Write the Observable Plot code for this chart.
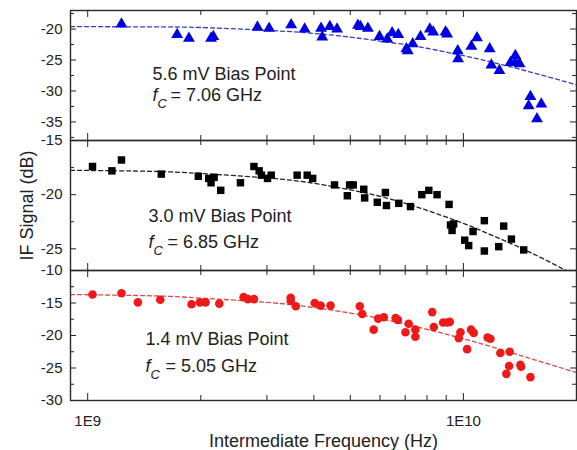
<!DOCTYPE html>
<html><head><meta charset="utf-8">
<script src="https://cdn.jsdelivr.net/npm/d3@7"></script>
<script src="https://cdn.jsdelivr.net/npm/@observablehq/plot@0.6"></script>
<style>
body{margin:0;background:#fff;}
#chart{position:relative;width:577px;height:450px;overflow:hidden;}
#chart svg{position:absolute;left:0;}
</style></head><body><div id="chart"></div>
<script>
// ---- data (frequencies in GHz, IF signal in dB) ----
const topFreqGHz = [1.23,1.73,1.86,2.13,2.16,2.83,3.04,3.48,3.78,4.18,4.21,4.41,4.61,5.24,5.32,5.57,5.98,6.27,6.46,6.71,7.05,7.11,7.33,7.69,8.14,8.31,8.96,9.05,9.66,9.68,10.5,10.87,11.75,11.87,12.47,13.34,13.75,13.75,14.11,15.08,14.92,16.12,15.70];
const topSignal  = [-19.2,-20.9,-21.5,-21.5,-21.2,-19.7,-19.9,-19.3,-20.0,-19.9,-21.3,-19.6,-20.0,-19.4,-19.6,-19.9,-21.2,-21.6,-20.6,-20.9,-23.2,-23.5,-22.4,-21.2,-20.0,-20.5,-20.5,-20.8,-23.5,-24.8,-22.8,-21.4,-23.2,-25.8,-26.7,-25.4,-24.3,-25.4,-25.6,-30.9,-32.4,-32.1,-34.5];

const midFreqGHz = [1.03,1.16,1.23,1.57,1.97,2.10,2.13,2.17,2.26,2.55,2.77,2.86,2.90,3.01,3.08,3.61,3.84,3.97,4.54,4.91,4.98,5.09,5.43,5.46,5.90,6.20,6.24,6.73,7.23,7.75,8.09,8.51,9.16,9.24,9.42,9.33,10.08,10.33,10.61,11.37,11.37,12.42,12.80,13.42,14.47];
const midSignal  = [-17.4,-17.8,-16.8,-18.1,-18.3,-18.5,-18.9,-18.4,-19.6,-18.9,-17.4,-17.8,-18.2,-18.5,-18.2,-18.2,-18.2,-18.5,-19.1,-20.1,-19.1,-19.1,-19.5,-20.3,-20.7,-19.8,-21.0,-20.8,-21.1,-20.0,-19.6,-20.0,-20.9,-22.8,-22.7,-23.3,-24.2,-24.7,-23.4,-22.4,-25.2,-24.8,-22.9,-24.1,-25.1];

const botFreqGHz = [1.03,1.23,1.36,1.56,1.89,1.99,2.06,2.24,2.60,2.67,2.77,3.47,3.47,3.58,4.02,4.17,4.43,5.30,5.38,5.77,5.93,6.14,6.60,6.69,7.01,7.15,7.45,7.45,8.26,8.34,8.83,9.05,9.20,9.72,9.82,10.23,10.48,10.65,11.60,11.80,12.54,13.28,13.23,13.01,14.18,14.24,15.08];
const botSignal  = [-13.7,-13.5,-14.9,-14.5,-15.2,-14.9,-14.9,-15.1,-14.1,-14.4,-14.4,-14.2,-14.7,-15.5,-15.0,-15.4,-15.4,-15.5,-16.7,-19.1,-17.4,-17.2,-17.3,-17.6,-19.5,-18.2,-19.1,-20.2,-16.4,-18.7,-18.0,-18.0,-17.9,-20.4,-19.5,-22.1,-19.1,-19.6,-20.3,-20.5,-22.7,-22.5,-24.7,-25.9,-24.5,-24.8,-26.4];

// dashed fit curves
const fitFreqGHz = [0.9,1.5,2,3,4,5,6,7,8,10,12,15,20];
const fitTop = [-19.6,-19.65,-19.75,-20.2,-20.7,-21.3,-21.95,-22.5,-23.1,-24.3,-25.4,-26.9,-29.0];
const fitMid = [-17.75,-17.85,-18.05,-18.45,-18.95,-19.55,-20.15,-20.8,-21.45,-22.65,-23.8,-25.3,-27.5];
const fitBot = [-13.7,-13.9,-14.25,-14.9,-15.7,-16.55,-17.4,-18.25,-19.05,-20.5,-21.8,-23.5,-25.7];

// ticks and labels
const xMajorTicks = [1e9, 1e10];
const xTickLabels = ["1E9", "1E10"];
const xMinorTicks = [2e9,3e9,4e9,5e9,6e9,7e9,8e9,9e9];
const topYTicks = [-20,-25,-30,-35];
const topYMinor = [-17.5,-22.5,-27.5,-32.5,-37.5];
const midYTicks = [-15,-20,-25];
const midYMinor = [-17.5,-22.5];
const botYTicks = [-10,-15,-20,-25,-30];
const botYMinor = [-12.5,-17.5,-22.5,-27.5];
const biasLabels = ["5.6 mV Bias Point","3.0 mV Bias Point","1.4 mV Bias Point"];
const cutoffLabels = ["= 7.06 GHz","= 6.85 GHz","= 5.05 GHz"];
const xTitle = "Intermediate Frequency (Hz)";
const yTitle = "IF Signal (dB)";

// ---- drawing ----
const FONT = "'Liberation Sans', Arial, sans-serif";
const W = 577, ML = 70, MR = 1, PH = 130;
const FW = W - ML - MR;
const txtColor = "#222";

function panel(o) {
  const pts = o.freq.map((f, i) => ({f: f * 1e9, v: o.sig[i]}));
  const fit = fitFreqGHz.map((f, i) => ({f: f * 1e9, v: o.fit[i]}));
  const mb = o.bottom ? 50 : 10;
  const marks = [
    Plot.line(fit, {x: "f", y: "v", stroke: o.lineColor, strokeWidth: 1.3, strokeDasharray: "4,3", curve: "natural", clip: true}),
    Plot.dot(pts, {x: "f", y: "v", symbol: o.symbol, r: o.r, fill: o.color, stroke: "none"}),
    // inward x ticks (bottom & top)
    Plot.ruleX(xMinorTicks, {x: d => d, insetTop: PH - 5, stroke: "#222"}),
    Plot.ruleX(xMinorTicks, {x: d => d, insetBottom: PH - 5, stroke: "#222"}),
    Plot.ruleX(xMajorTicks, {x: d => d, insetTop: PH - 7, stroke: "#222"}),
    Plot.ruleX(xMajorTicks, {x: d => d, insetBottom: PH - 7, stroke: "#222"}),
    // inward y ticks (left & right)
    Plot.ruleY(o.yTicks, {y: d => d, insetRight: FW - 6, stroke: "#222"}),
    Plot.ruleY(o.yTicks, {y: d => d, insetLeft: FW - 6, stroke: "#222"}),
    Plot.ruleY(o.yMinor, {y: d => d, insetRight: FW - 4, stroke: "#222"}),
    Plot.ruleY(o.yMinor, {y: d => d, insetLeft: FW - 4, stroke: "#222"}),
    Plot.frame({stroke: "#2a2a2a", strokeWidth: 1.4}),
    Plot.axisY({ticks: o.yTicks, tickSize: 0, tickPadding: 8, tickFormat: d => String(d), label: null, fontSize: 15, fill: txtColor}),
    Plot.text([o.bias], {text: d => d, frameAnchor: "top-left", dx: o.tx, dy: o.b1, textAnchor: "start", lineAnchor: "bottom", fontSize: 18, fill: txtColor}),
    Plot.text(["f"], {text: d => d, frameAnchor: "top-left", dx: o.tx, dy: o.b2, textAnchor: "start", lineAnchor: "bottom", fontSize: 18, fontStyle: "italic", fill: txtColor}),
    Plot.text(["C"], {text: d => d, frameAnchor: "top-left", dx: o.tx + 5, dy: o.b2 + 7, textAnchor: "start", lineAnchor: "bottom", fontSize: 13, fontStyle: "italic", fill: txtColor}),
    Plot.text([o.cutoff], {text: d => d, frameAnchor: "top-left", dx: o.tx + o.eq, dy: o.b2, textAnchor: "start", lineAnchor: "bottom", fontSize: 18, fill: txtColor})
  ];
  if (o.yTitle) {
    marks.push(Plot.text([yTitle], {text: d => d, frameAnchor: "left", dx: -43, rotate: -90, textAnchor: "middle", lineAnchor: "middle", fontSize: 18, fill: txtColor}));
  }
  if (o.bottom) {
    marks.push(Plot.axisX({ticks: xMajorTicks, tickSize: 0, tickPadding: 15, tickFormat: (d, i) => xTickLabels[xMajorTicks.indexOf(d)], label: null, fontSize: 15, fill: txtColor}));
    marks.push(Plot.text([xTitle], {text: d => d, frameAnchor: "bottom", dy: 46, textAnchor: "middle", lineAnchor: "bottom", fontSize: 18, fill: txtColor}));
  }
  const svg = Plot.plot({
    width: W, height: PH + 10 + mb,
    marginLeft: ML, marginRight: MR, marginTop: 10, marginBottom: mb,
    x: {type: "log", domain: [9e8, 2e10], axis: o.bottom ? undefined : null},
    y: {domain: o.yDomain},
    style: {fontFamily: FONT, background: "transparent", overflow: "visible", color: txtColor},
    marks
  });
  svg.style.top = o.top + "px";
  return svg;
}

const chart = document.getElementById("chart");
chart.appendChild(panel({freq: topFreqGHz, sig: topSignal, fit: fitTop, color: "#0000e0", lineColor: "#3b3bc0", symbol: "triangle", r: 4.4,
  yDomain: [-38, -17], yTicks: topYTicks, yMinor: topYMinor, bias: biasLabels[0], cutoff: cutoffLabels[0], tx: 82, b1: 69, b2: 90, eq: 18, top: 0}));
chart.appendChild(panel({freq: midFreqGHz, sig: midSignal, fit: fitMid, color: "#000", lineColor: "#222", symbol: "square", r: 4.2,
  yDomain: [-27, -15], yTicks: midYTicks, yMinor: midYMinor, bias: biasLabels[1], cutoff: cutoffLabels[1], tx: 78, b1: 81, b2: 107, eq: 19, top: 130, yTitle: true}));
chart.appendChild(panel({freq: botFreqGHz, sig: botSignal, fit: fitBot, color: "#ee1a1a", lineColor: "#d84a4a", symbol: "circle", r: 4.3,
  yDomain: [-30, -10], yTicks: botYTicks, yMinor: botYMinor, bias: biasLabels[2], cutoff: cutoffLabels[2], tx: 75, b1: 74, b2: 101, eq: 20, top: 260, bottom: true}));
</script>
</body></html>
